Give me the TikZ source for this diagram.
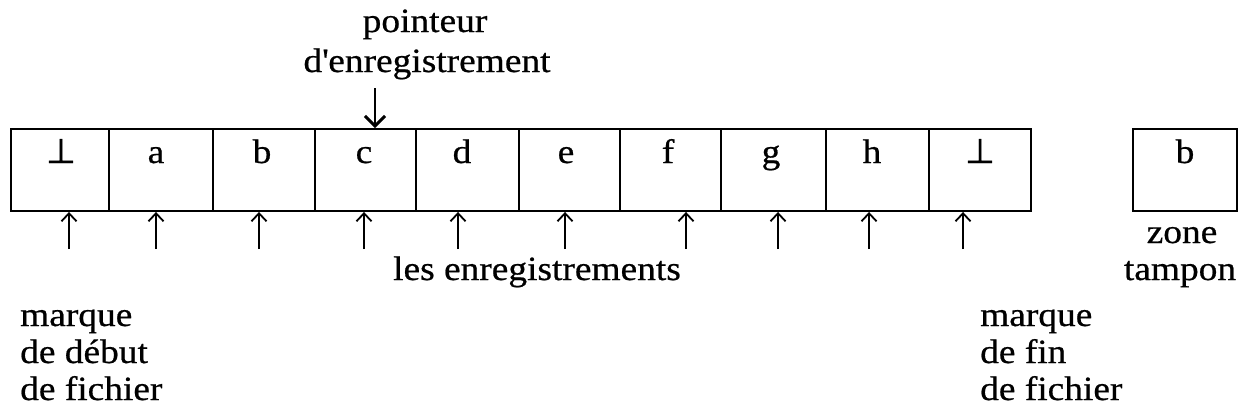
\documentclass[tikz,border=0pt]{standalone}
\usepackage{fontspec}
\setmainfont{Liberation Serif}[FakeStretch=1.1,FakeBold=0.6]
\newfontfamily\symfnt{DejaVu Sans}[FakeBold=1.2]
\usetikzlibrary{arrows.meta}
\begin{document}
\begin{tikzpicture}[x=1pt,y=-1pt,
  cell/.style={draw, line width=1.9pt, inner sep=0pt, minimum height=82pt},
  lab/.style={font=\fontsize{34}{37}\selectfont, inner sep=0pt, anchor=base},
  labw/.style={lab, anchor=base west},
  bot/.style={font=\symfnt\fontsize{34}{37}\selectfont, inner sep=0pt, anchor=base},
  uparrow/.style={line width=1.6pt, -{Straight Barb[length=8pt,width=15pt,line width=1.8pt]}},
  ptrarrow/.style={line width=2.8pt, -{Straight Barb[length=10pt,width=20pt,line width=3pt]}}]
\useasboundingbox (0,0) rectangle (1239,413);
% cells of the file
\foreach \l/\r/\n in {11/109/1,109/213/2,213/315/3,315/416/4,416/519/5,519/620/6,620/721/7,721/826/8,826/929/9,929/1031/10}
  \node[cell, minimum width={(\r-\l)*1pt}] (c\n) at ({(\l+\r)/2},170) {};
% buffer
\node[cell, minimum width=104pt] (tb) at (1185,170) {};
% cell contents
\node[bot] (l1) at (61,163) {⊥};
\node[lab] (l2) at (156,163) {a};
\node[lab] (l3) at (262,163) {b};
\node[lab] (l4) at (364,163) {c};
\node[lab] (l5) at (462,163) {d};
\node[lab] (l6) at (566,163) {e};
\node[lab] (l7) at (668,163) {f};
\node[lab] (l8) at (771,163) {g};
\node[lab] (l9) at (872,163) {h};
\node[bot] (l10) at (980,163) {⊥};
\node[lab] (lb) at (1185,163) {b};
% pointer
\node[lab] (pt1) at (425,32) {pointeur};
\node[lab] (pt2) at (427,72) {d\textquotesingle enregistrement};
\coordinate (ps) at (375,88);
\draw[ptrarrow] (ps) -- (ps |- c4.north);
% up arrows
\foreach \x/\n in {69/1,156/2,259/3,364/4,458/5,565/6,686/7,778/8,869/9,963/10}{
  \coordinate (u\n) at (\x,249);
  \draw[uparrow] (u\n) -- (u\n |- c\n.south);
}
% labels
\node[lab] (enr) at (537,280) {les enregistrements};
\node[lab] (zone) at (1182,243) {zone};
\node[lab] (tamp) at (1180,280) {tampon};
\node[labw] (md1) at (20,326) {marque};
\node[labw] (md2) at (20,363) {de début};
\node[labw] (md3) at (20,400) {de fichier};
\node[labw] (mf1) at (980,326) {marque};
\node[labw] (mf2) at (980,363) {de fin};
\node[labw] (mf3) at (980,400) {de fichier};
\end{tikzpicture}
\end{document}
